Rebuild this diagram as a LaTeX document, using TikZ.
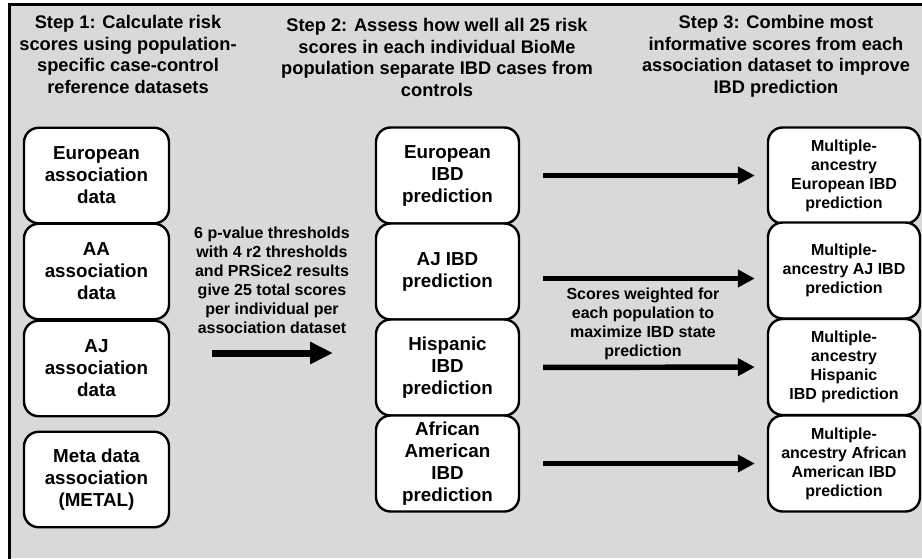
\documentclass[tikz,border=0pt]{standalone}
\usepackage{fontspec}
\setmainfont{Liberation Sans}
\usepackage{xcolor}
\usepackage{tikz}
\usetikzlibrary{arrows.meta,calc}
\definecolor{figline}{RGB}{0,0,0}
\definecolor{figpanel}{RGB}{217,217,217}
\definecolor{figbox}{RGB}{255,255,255}
\tikzset{
  hd/.style    ={font=\fontsize{13.7}{16.2}\selectfont\bfseries, align=center, inner sep=0pt, anchor=north},
  bx/.style    ={draw=figline, fill=figbox, line width=1.8pt, rounded corners=11pt, align=center, inner sep=0pt,
                 font=\fontsize{14.1}{16.5}\selectfont\bfseries},
  lbx/.style   ={bx, minimum width=108.75pt, minimum height=71.6pt},
  mbx/.style   ={bx, minimum width=107.25pt, minimum height=72pt},
  rbx/.style   ={bx, minimum width=114pt, minimum height=72pt, font=\fontsize{12}{14.25}\selectfont\bfseries},
  note/.style  ={font=\fontsize{12}{14.25}\selectfont\bfseries, align=center, inner sep=0pt},
  arr/.style   ={draw=figline, line width=4.1pt, -{Triangle[length=12.75pt,width=12.75pt]},
                 shorten <=17.25pt, shorten >=9pt},
  bigarr/.style={draw=figline, line width=5.25pt, -{Triangle[length=17.25pt,width=15.75pt]}},
}
\begin{document}
\begin{tikzpicture}[x=0.75pt,y=-0.75pt]
  \useasboundingbox (0,0) rectangle (922,558);
  \fill[figpanel] (9.7,4.5) rectangle (922,558);
  \draw[figline, line width=2.4pt] (9.7,560) -- (9.7,4.5) -- (924,4.5);
  \node[hd] (h1) at (128,15) {Step 1: Calculate risk\\scores using population-\\specific case-control\\reference datasets};
  \node[hd] (h2) at (437,18) {Step 2: Assess how well all 25 risk\\scores in each individual BioMe\\population separate IBD cases from\\controls};
  \node[hd] (h3) at (776,15) {Step 3: Combine most\\informative scores from each\\association dataset to improve\\IBD prediction};
  \begin{scope}
  \node[lbx] (eu) at (96.5,175.5) {European\\association\\data};
  \node[lbx] (aa) at (96.5,271.5) {AA\\association\\data};
  \node[lbx] (aj) at (96.5,368.5) {AJ\\association\\data};
  \node[lbx] (meta) at (96.5,479.5) {Meta data\\association\\(METAL)};
  \end{scope}
  \begin{scope}
  \node[mbx] (peu) at (447.5,175.5) {European\\IBD\\prediction};
  \node[mbx] (paj) at (447.5,271.5) {AJ IBD\\prediction};
  \node[mbx] (phis) at (447.5,367.5) {Hispanic\\IBD\\prediction};
  \node[mbx] (paf) at (447.5,463.5) {African\\American\\IBD\\prediction};
  \end{scope}
  \begin{scope}
  \node[rbx] (meu) at (844,175.5) {Multiple-\\ancestry\\European IBD\\prediction};
  \node[rbx] (maj) at (844,270.5) {Multiple-\\ancestry AJ IBD\\prediction};
  \node[rbx] (mhis) at (844,367) {Multiple-\\ancestry\\Hispanic\\IBD prediction};
  \node[rbx] (maf) at (844,463.5) {Multiple-\\ancestry African\\American IBD\\prediction};
  \end{scope}
  \node[note] (thr) at (272,280) {6 p-value thresholds\\with 4 r2 thresholds\\and PRSice2 results\\give 25 total scores\\per individual per\\association dataset};
  \node[note] (wgt) at (643,323.5) {Scores weighted for\\each population to\\maximize IBD state\\prediction};
  \coordinate (s1) at (212,353);
  \coordinate (s2) at (333,353);
  \draw[bigarr] (s1) -- (s2);
  \draw[arr] (peu) -- (meu);
  \draw[arr] ($(paj.east)+(0,7)$) -- ($(maj.west)+(0,8)$);
  \draw[arr] (phis) -- (mhis);
  \draw[arr] (paf) -- (maf);
\end{tikzpicture}
\end{document}
